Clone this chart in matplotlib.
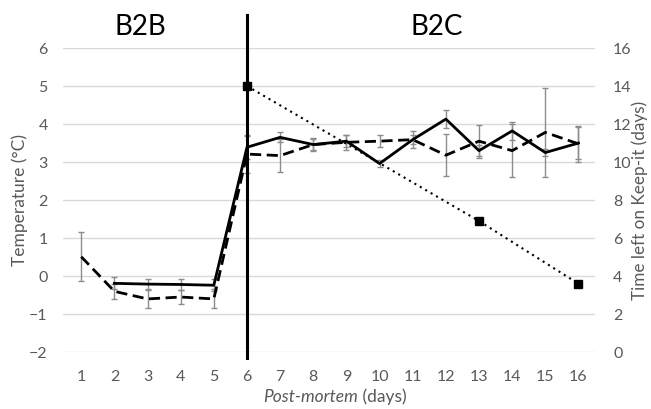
import numpy as np
import matplotlib
matplotlib.use("Agg")
import matplotlib.pyplot as plt

plt.rcParams['font.family'] = ['Lato', 'DejaVu Sans']

days = np.arange(1, 17)

# solid line (temperature, series 1)
temp_solid = [np.nan, -0.19, -0.21, -0.22, -0.24, 3.39, 3.65, 3.46, 3.55, 2.96,
              3.59, 4.13, 3.30, 3.82, 3.25, 3.50]
err_solid = [np.nan, 0.16, 0.13, 0.14, 0.16, 0.30, 0.13, 0.15, 0.15, 0.09,
             0.12, 0.23, 0.15, 0.24, 0.10, 0.42]

# dashed line (temperature, series 2)
temp_dashed = [0.51, -0.40, -0.60, -0.55, -0.60, 3.21, 3.17, 3.46, 3.52, 3.55,
               3.59, 3.18, 3.55, 3.30, 3.78, 3.48]
err_dashed = [0.64, 0.19, 0.24, 0.19, 0.25, 0.50, 0.43, 0.17, 0.19, 0.15,
              0.22, 0.55, 0.43, 0.70, 1.17, 0.47]

# time left on Keep-it (right axis)
keep_days = [6, 13, 16]
keep_left = [14.0, 6.9, 3.6]

grey = '#595959'

fig = plt.figure(figsize=(6.51, 4.09), dpi=100)
ax = fig.add_axes([0.0968, 0.139, 0.8172, 0.7436])
ax2 = ax.twinx()

ax.set_xlim(0.45, 16.5)
ax.set_ylim(-2, 6)
ax2.set_ylim(0, 16)

ax.set_yticks(range(-2, 7))
ax2.set_yticks(range(0, 17, 2))
ax.set_xticks(days)
ax.grid(axis='y', color='#d9d9d9', linewidth=1)
ax.set_axisbelow(True)

for a in (ax, ax2):
    for s in a.spines.values():
        s.set_visible(False)
    a.tick_params(length=0, labelsize=11.5, colors=grey)
ax.tick_params(axis='y', pad=11)
ax.tick_params(axis='x', pad=13)
ax2.tick_params(axis='y', pad=13)

ebkw = dict(ecolor='#8c8c8c', elinewidth=1, capsize=2.5, capthick=1)
ax.errorbar(days, temp_dashed, yerr=err_dashed, fmt='none', **ebkw)
ax.errorbar(days, temp_solid, yerr=err_solid, fmt='none', **ebkw)
ax.plot(days, temp_dashed, color='black', lw=2, linestyle=(0, (4, 2)))
ax.plot(days, temp_solid, color='black', lw=2)

ax2.plot(keep_days, keep_left, color='black', lw=1.5, linestyle=(0, (1, 2)),
         marker='s', markersize=6)

ax.set_ylabel('Temperature (°C)', fontsize=12.5, color=grey)
ax.yaxis.set_label_coords(-0.066, 0.5)
ax2.set_ylabel('Time left on Keep-it (days)', fontsize=12.3, color=grey)
ax2.yaxis.set_label_coords(1.068, 0.5)

# vertical divider at day 6, running past the plot area
ax.axvline(6, ymin=-0.02, ymax=1.11, color='black', lw=2.2, clip_on=False)

ax.text(0.145, 1.07, 'B2B', transform=ax.transAxes, fontsize=20, ha='center', va='center')
ax.text(0.703, 1.07, 'B2C', transform=ax.transAxes, fontsize=20, ha='center', va='center')

fig.text(358 / 651, 0.03, 'Post-mortem', style='italic', fontsize=12.5, color=grey,
         ha='right', va='center')
fig.text(358 / 651, 0.03, ' (days)', fontsize=12.5, color=grey, ha='left', va='center')

fig.savefig('out.png', dpi=100)
